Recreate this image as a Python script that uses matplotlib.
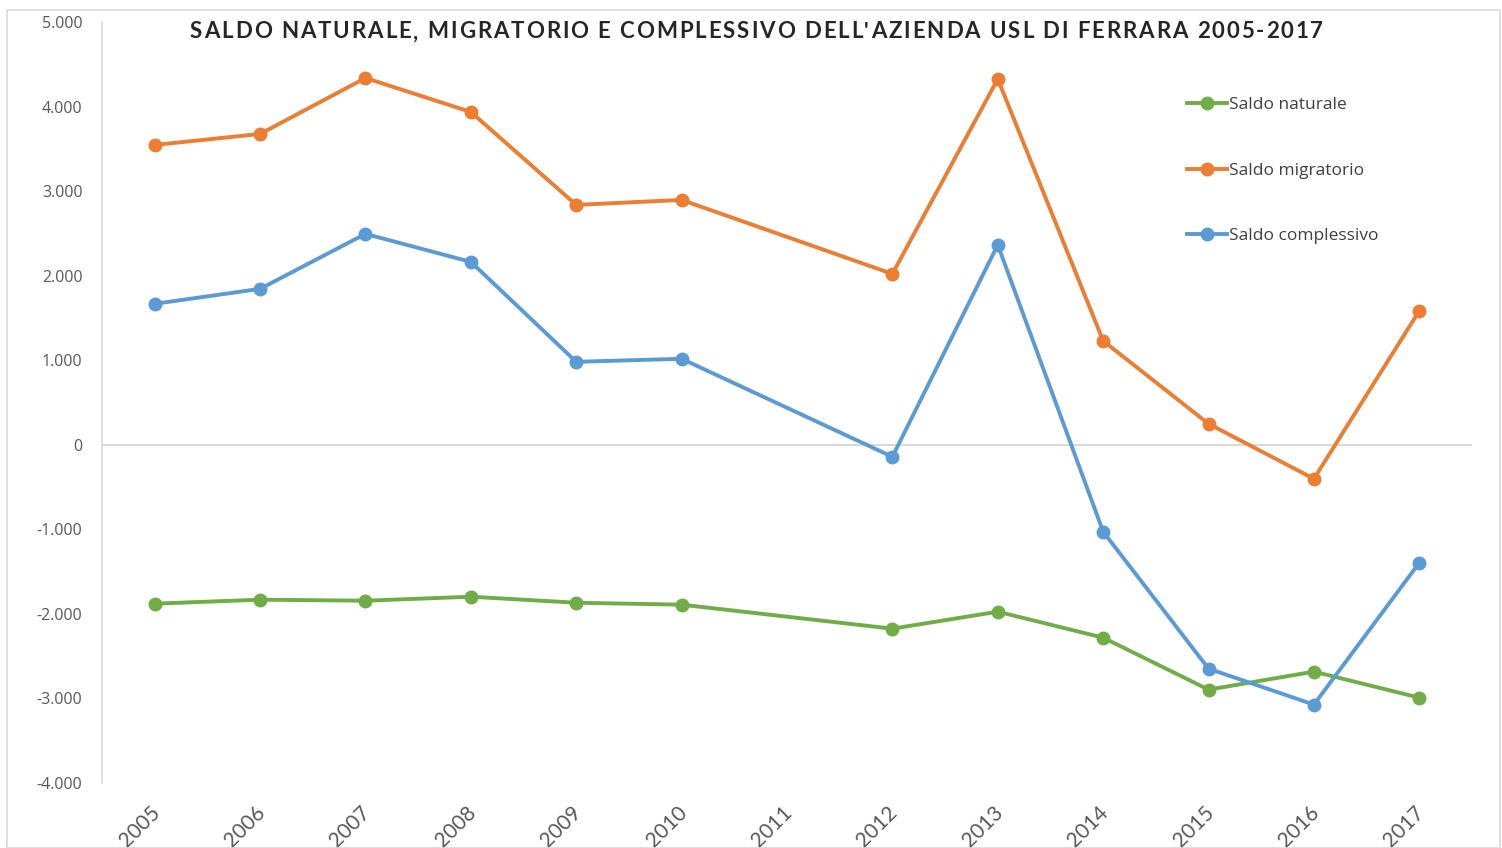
import matplotlib
matplotlib.use("Agg")
import matplotlib.pyplot as plt
from matplotlib.patches import Rectangle
from matplotlib.lines import Line2D
import matplotlib.transforms as mtrans

years = ["2005", "2006", "2007", "2008", "2009", "2010", "2011",
         "2012", "2013", "2014", "2015", "2016", "2017"]
saldo_naturale = [-1879, -1832, -1844, -1797, -1868, -1891, None,
                  -2175, -1974, -2281, -2896, -2683, -2991]
saldo_migratorio = [3546, 3676, 4338, 3936, 2837, 2896, None,
                    2021, 4326, 1229, 248, -402, 1584]
saldo_complessivo = [1667, 1844, 2494, 2163, 981, 1017, None,
                     -142, 2364, -1028, -2648, -3073, -1395]
yticks = [-4000, -3000, -2000, -1000, 0, 1000, 2000, 3000, 4000, 5000]
title = "SALDO NATURALE, MIGRATORIO E COMPLESSIVO DELL'AZIENDA USL DI FERRARA 2005-2017"

series = [
    ("Saldo naturale", saldo_naturale, "#70AD47"),
    ("Saldo migratorio", saldo_migratorio, "#ED7D31"),
    ("Saldo complessivo", saldo_complessivo, "#5B9BD5"),
]

W, H = 1502, 848
fig = plt.figure(figsize=(W / 100, H / 100), dpi=100)
fig.patch.set_facecolor("white")
fig.patches.append(Rectangle((7 / W, 0), (1500 - 7) / W, 1 - 10 / H,
                             transform=fig.transFigure, fill=False,
                             edgecolor="#D9D9D9", linewidth=1.2))

ax = fig.add_axes([102 / W, 1 - 783 / H, (1472 - 102) / W, (783 - 22) / H])
ax.set_xlim(-0.5, len(years) - 0.5)
ax.set_ylim(-4000, 5000)

for name, vals, color in series:
    xs = [i for i, v in enumerate(vals) if v is not None]
    ys = [v for v in vals if v is not None]
    ax.plot(xs, ys, color=color, linewidth=2.8, marker="o", markersize=9,
            markeredgecolor=color, markerfacecolor=color, label=name,
            solid_joinstyle="round", zorder=3)

ax.axhline(0, color="#D9D9D9", linewidth=1.5, zorder=1)

for s in ["top", "right", "bottom"]:
    ax.spines[s].set_visible(False)
ax.spines["left"].set_color("#D9D9D9")
ax.spines["left"].set_linewidth(1.2)

ax.set_yticks(yticks)
ax.set_yticklabels([f"{v:,}".replace(",", ".") for v in yticks],
                   fontsize=11.5, color="#595959", family="Open Sans")
ax.tick_params(axis="y", length=0, pad=14)

ax.set_xticks(range(len(years)))
ax.set_xticklabels(years, rotation=45, ha="right", rotation_mode="anchor",
                   fontsize=15, color="#595959", family="Lato")
ax.tick_params(axis="x", length=0, pad=6)
offset = mtrans.ScaledTranslation(-5 / 100, -11 / 100, fig.dpi_scale_trans)
for lbl in ax.get_xticklabels():
    lbl.set_transform(lbl.get_transform() + offset)

# Title with letter spacing, drawn character by character
renderer = fig.canvas.get_renderer()
tprops = dict(fontsize=16, fontweight="bold", color="#262626", family="Lato")
widths = []
for ch in title:
    if ch == " ":
        t = fig.text(0, 0, "a a", **tprops)
        t2 = fig.text(0, 0, "aa", **tprops)
        w = t.get_window_extent(renderer).width - t2.get_window_extent(renderer).width
        t.remove(); t2.remove()
    else:
        t = fig.text(0, 0, ch, **tprops)
        w = t.get_window_extent(renderer).width
        t.remove()
    widths.append(w)
target_left, target_right = 190, 1323
spacing = (target_right - target_left - sum(widths)) / (len(title) - 1)
xpos = target_left
for ch, w in zip(title, widths):
    if ch != " ":
        fig.text(xpos / W, 1 - 32 / H, ch, ha="left", va="center", **tprops)
    xpos += w + spacing

handles = [Line2D([0], [0], color=c, linewidth=2.8, marker="o", markersize=9)
           for _, _, c in series]
leg = ax.legend(handles, [n for n, _, _ in series], loc="upper left",
                bbox_to_anchor=((1180 - 102) / (1472 - 102), 1 - (90 - 22) / (783 - 22)),
                frameon=False, fontsize=12.5, labelspacing=2.85,
                handlelength=2.3, handletextpad=0.15, borderaxespad=0)
for t in leg.get_texts():
    t.set_color("#404040")
    t.set_family("Open Sans")

fig.savefig("out.png", dpi=100)
